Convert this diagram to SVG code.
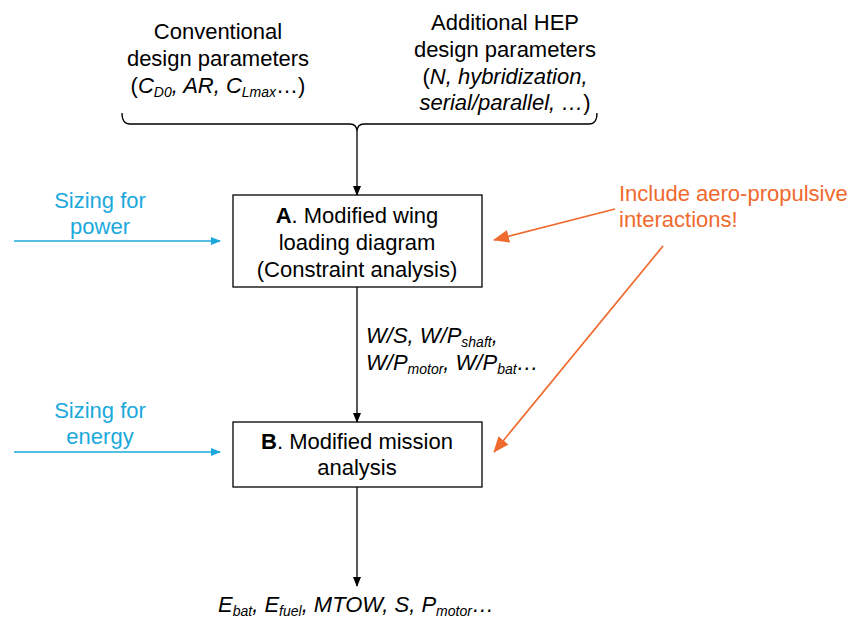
<svg xmlns="http://www.w3.org/2000/svg" width="852" height="619" viewBox="0 0 852 619">
<style>
text{font-family:"Liberation Sans",Arial,sans-serif;font-size:22px;fill:#000}
.c{text-anchor:middle}
.i{font-style:italic}
.blue{fill:#1ba9dc}
.or{fill:#ef6a2e}
.box{fill:#fff;stroke:#000;stroke-width:1.3}
.k{stroke:#000;stroke-width:1.3;fill:none}
.bl{stroke:#1ba9dc;stroke-width:1.5;fill:none}
.ol{stroke:#ef6a2e;stroke-width:1.7;fill:none}
.s{font-size:14px}
</style>
<defs>
<marker id="ak" markerWidth="10" markerHeight="10" refX="9" refY="5" orient="auto" markerUnits="userSpaceOnUse"><path d="M0,1 L10,5 L0,9 Z" fill="#000"/></marker>
<marker id="ab" markerWidth="10" markerHeight="10" refX="9" refY="5" orient="auto" markerUnits="userSpaceOnUse"><path d="M0,1 L10,5 L0,9 Z" fill="#1ba9dc"/></marker>
<marker id="ao" markerWidth="16" markerHeight="16" refX="15" refY="8" orient="auto" markerUnits="userSpaceOnUse"><path d="M0,1.5 L16,8 L0,14.5 Z" fill="#ef6a2e"/></marker>
</defs>
<g id="inputs">
<text class="c" x="218" y="39">Conventional</text>
<text class="c" x="218" y="66">design parameters</text>
<text class="c" x="218" y="93">(<tspan class="i">C</tspan><tspan class="i s" dy="4">D0</tspan><tspan class="i" dy="-4">, AR, C</tspan><tspan class="i s" dy="4">Lmax</tspan><tspan dy="-4">…)</tspan></text>
<text class="c" x="505" y="30">Additional HEP</text>
<text class="c" x="505" y="57">design parameters</text>
<text class="c" x="505" y="84">(<tspan class="i">N, hybridization,</tspan></text>
<text class="c" x="505" y="110"><tspan class="i">serial/parallel, …</tspan>)</text>
</g>
<g id="nodeA">
<rect class="box" x="233" y="195" width="249" height="92"/>
<text class="c" x="357" y="223"><tspan font-weight="bold">A</tspan>. Modified wing</text>
<text class="c" x="357" y="250">loading diagram</text>
<text class="c" x="357" y="277">(Constraint analysis)</text>
</g>
<g id="nodeB">
<rect class="box" x="233" y="422" width="249" height="65"/>
<text class="c" x="357" y="449"><tspan font-weight="bold">B</tspan>. Modified mission</text>
<text class="c" x="357" y="475">analysis</text>
</g>
<g id="labels">
<text class="c blue" x="100" y="208">Sizing for</text>
<text class="c blue" x="100" y="234">power</text>
<text class="c blue" x="100" y="418">Sizing for</text>
<text class="c blue" x="100" y="444">energy</text>
<text class="or" x="619" y="201">Include aero-propulsive</text>
<text class="or" x="619" y="227">interactions!</text>
<text class="i" x="366" y="343">W/S, W/P<tspan class="s" dy="4">shaft</tspan><tspan dy="-4">,</tspan></text>
<text class="i" x="366" y="370">W/P<tspan class="s" dy="4">motor</tspan><tspan dy="-4">, W/P</tspan><tspan class="s" dy="4">bat</tspan><tspan dy="-4">…</tspan></text>
<text class="i" x="218" y="612">E<tspan class="s" dy="4">bat</tspan><tspan dy="-4">, E</tspan><tspan class="s" dy="4">fuel</tspan><tspan dy="-4">, MTOW, S, P</tspan><tspan class="s" dy="4">motor</tspan><tspan dy="-4">…</tspan></text>
</g>
<g id="connectors">
<path class="k" d="M122,113 Q122,124 130,124 L350,124 Q357,124 357,132 Q357,124 364,124 L589,124 Q597,124 597,113"/>
<line class="k" x1="357" y1="132" x2="357" y2="195" marker-end="url(#ak)"/>
<line class="k" x1="357" y1="287" x2="357" y2="422" marker-end="url(#ak)"/>
<line class="k" x1="357" y1="487" x2="357" y2="586" marker-end="url(#ak)"/>
<line class="bl" x1="14" y1="241" x2="220" y2="241" marker-end="url(#ab)"/>
<line class="bl" x1="14" y1="452" x2="220" y2="452" marker-end="url(#ab)"/>
<line class="ol" x1="615" y1="209" x2="494" y2="240" marker-end="url(#ao)"/>
<line class="ol" x1="663" y1="246" x2="494" y2="452" marker-end="url(#ao)"/>
</g>
</svg>
